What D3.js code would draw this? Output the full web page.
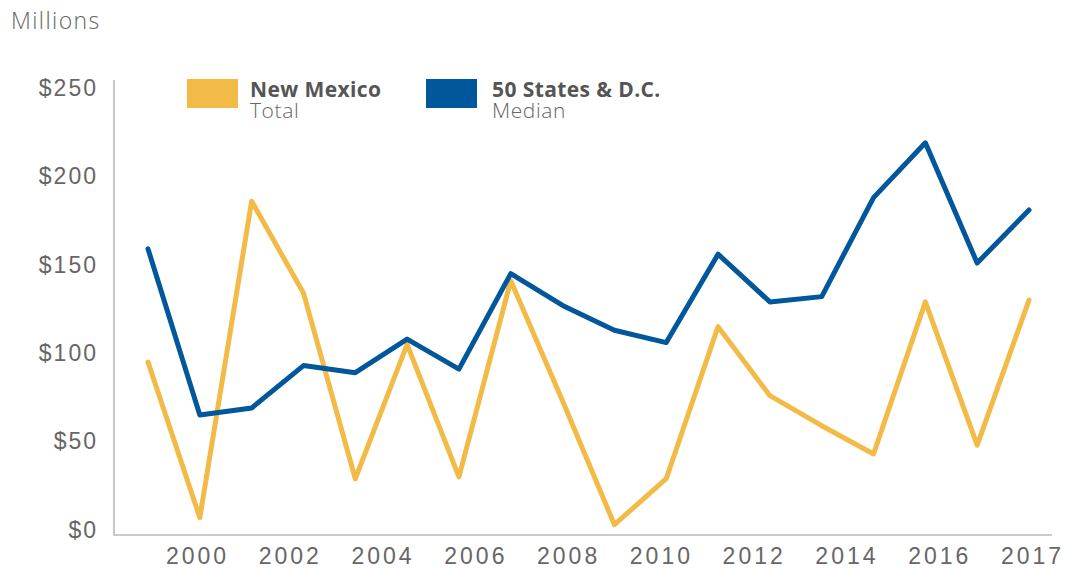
<!DOCTYPE html>
<html>
<head>
<meta charset="utf-8">
<script src="https://cdn.jsdelivr.net/npm/d3@7"></script>
<style>
  body { margin: 0; background: #fff; }
  svg { display: block; font-family: "Open Sans", sans-serif; }
  .tick text { fill: #666; font-weight: 300; font-size: 23px; }
  .y-axis .tick text { letter-spacing: 2px; }
  .x-axis .tick text { letter-spacing: 3px; }
</style>
</head>
<body>
<div id="chart"></div>
<script>
// years of the data points
const years = [2000, 2001, 2002, 2003, 2004, 2005, 2006, 2007, 2008,
  2009, 2010, 2011, 2012, 2013, 2014, 2015, 2016, 2017];
// New Mexico total (millions)
const newMexico = [95, 7, 186, 134, 29, 105, 30, 141, 73,
  3, 29, 115, 76, 59, 43, 129, 48, 130];
// 50 states & D.C. median (millions)
const median = [159, 65, 69, 93, 89, 108, 91, 145, 127,
  113, 106, 156, 129, 132, 188, 219, 151, 181];
// axis labels
const xLabels = ['2000', '2002', '2004', '2006', '2008', '2010', '2012', '2014', '2016', '2017'];
const yTicks = [0, 50, 100, 150, 200, 250];

const W = 1068, H = 569;
const mLeft = 114, mRight = 1052, mTop = 80, mBottom = 535;

const svg = d3.select('#chart').append('svg')
  .attr('width', W).attr('height', H);

const x = d3.scalePoint().domain(years).range([148, 1029]);
const y = d3.scaleLinear().domain([0, 250]).range([530, 88]);
const xLab = d3.scalePoint().domain(xLabels).range([197, 1032]);

// unit label
svg.append('text')
  .attr('x', 11).attr('y', 29)
  .attr('fill', '#666')
  .style('font-size', '23px').style('font-weight', 300)
  .style('letter-spacing', '1.4px')
  .text('Millions');

// y axis labels
svg.append('g')
  .attr('class', 'y-axis')
  .attr('transform', `translate(${mLeft},0)`)
  .call(d3.axisLeft(y).tickValues(yTicks).tickSize(0).tickPadding(16)
    .tickFormat((d) => '$' + d))
  .call((g) => g.select('.domain').remove());

// x axis labels
svg.append('g')
  .attr('class', 'x-axis')
  .attr('transform', `translate(0,${mBottom})`)
  .call(d3.axisBottom(xLab).tickSize(0).tickPadding(13))
  .call((g) => g.select('.domain').remove());

// frame lines
svg.append('path')
  .attr('d', `M${mLeft},${mTop}V${mBottom}H${mRight}`)
  .attr('fill', 'none')
  .attr('stroke', '#bbb')
  .attr('stroke-width', 1.6);

const line = d3.line()
  .x((d, i) => x(years[i]))
  .y((d) => y(d));

const series = [
  { name: 'New Mexico', sub: 'Total', values: newMexico, color: '#f2bb47' },
  { name: '50 States & D.C.', sub: 'Median', values: median, color: '#00579b' },
];

svg.selectAll('.series')
  .data(series)
  .join('path')
  .attr('class', 'series')
  .attr('d', (d) => line(d.values))
  .attr('fill', 'none')
  .attr('stroke', (d) => d.color)
  .attr('stroke-width', 5)
  .attr('stroke-linejoin', 'round')
  .attr('stroke-linecap', 'round');

// legend
const legendX = [187, 426];
const textX = [250, 492];
const lg = svg.selectAll('.legend')
  .data(series)
  .join('g')
  .attr('class', 'legend');

lg.append('rect')
  .attr('x', (d, i) => legendX[i]).attr('y', 79)
  .attr('width', 51).attr('height', 29)
  .attr('fill', (d) => d.color);

// name + subtitle in one text block (two lines)
const lt = lg.append('text')
  .attr('y', 97)
  .style('font-size', '21px');

lt.append('tspan')
  .attr('x', (d, i) => textX[i])
  .attr('fill', '#555')
  .style('font-weight', 700)
  .style('letter-spacing', '0.4px')
  .text((d) => d.name);

lt.append('tspan')
  .attr('x', (d, i) => textX[i])
  .attr('dy', 20.5)
  .attr('fill', '#666')
  .style('font-weight', 300)
  .style('letter-spacing', '0.6px')
  .text((d) => d.sub);
</script>
</body>
</html>
